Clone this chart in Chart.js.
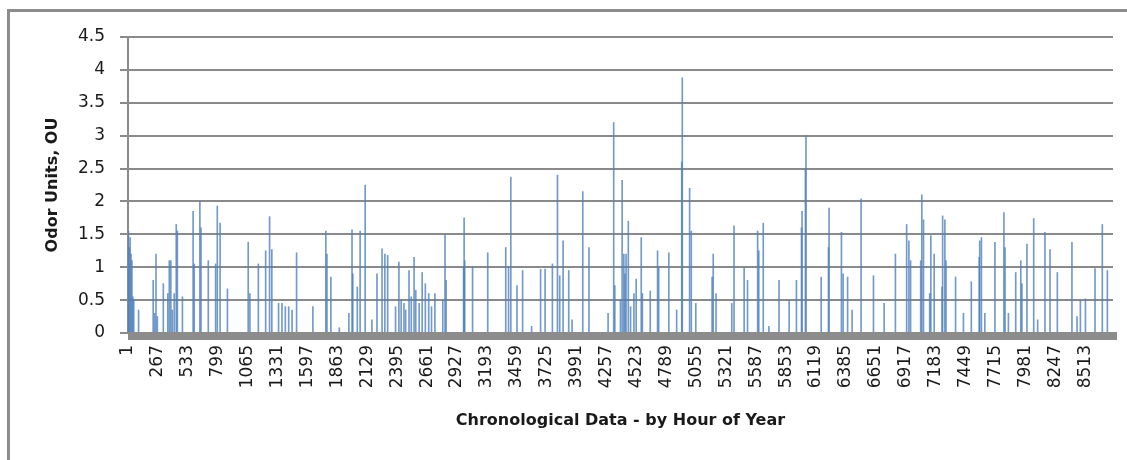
<!DOCTYPE html>
<html>
<head>
<meta charset="utf-8">
<script src="https://cdn.jsdelivr.net/npm/chart.js@4.4.1/dist/chart.umd.min.js"></script>
<style>
  html, body { margin: 0; padding: 0; background: #fff; }
  #frame {
    position: absolute; left: 7px; top: 9px; width: 1140px; height: 470px;
    border-left: 3px solid #8c8c8c; border-top: 3px solid #8c8c8c;
  }
  #odorChart { position: absolute; left: 0; top: 0; }
</style>
</head>
<body>
<div id="frame"></div>
<canvas id="odorChart" width="1127" height="460"></canvas>
<script>
// jam dalam setahun (1..8760)
const HOURS_IN_YEAR = 8760;
const TICK_STEP = 266;

// puncak bau yg kebaca dari grafik (jam ke-, nilai OU)
const spikeHours = [
  5, 12, 20, 28, 36, 44, 52, 95,
  225, 238, 250, 262, 315, 355, 368, 382, 395, 412, 430, 440, 485,
  580, 590, 640, 650, 715, 780, 795, 820, 885,
  1070, 1085, 1160, 1225, 1260, 1280, 1340, 1370, 1400, 1430, 1460, 1500,
  1645, 1760, 1770, 1805, 1880, 1965, 1993, 2000, 2040, 2065, 2110, 2170,
  2215, 2260, 2285, 2310, 2380, 2410, 2430, 2455, 2470, 2500, 2520, 2545,
  2560, 2590, 2617, 2645, 2675, 2700, 2730, 2800, 2820, 2830,
  2985, 2990, 2995, 3065, 3200, 3360, 3385, 3405, 3460, 3510, 3590,
  3670, 3710, 3775, 3820, 3840, 3870, 3920, 3950, 4045, 4100, 4270,
  4320, 4330, 4380, 4395, 4410, 4420, 4430, 4450, 4470, 4500, 4520,
  4565, 4575, 4645, 4710, 4720, 4810, 4880, 4925, 4930, 4995, 5010, 5050,
  5195, 5205, 5230, 5370, 5390, 5480, 5510, 5600, 5610, 5650, 5700,
  5790, 5880, 5945, 5990, 5995, 6025, 6030, 6165, 6230, 6235, 6345,
  6360, 6400, 6440, 6520, 6630, 6725, 6825, 6925, 6945, 6960, 7050,
  7060, 7075, 7130, 7140, 7170, 7240, 7245, 7265, 7275, 7360, 7430,
  7500, 7570, 7575, 7590, 7620, 7710, 7790, 7800, 7830, 7895, 7940,
  7950, 7995, 8055, 8090, 8155, 8200, 8265, 8395, 8440, 8470, 8515,
  8600, 8665, 8710
];
const spikeValues = [
  1.55, 1.3, 1.45, 1.2, 1.1, 0.55, 0.5, 0.35,
  0.8, 0.3, 1.2, 0.25, 0.75, 0.6, 1.1, 1.1, 0.35, 0.6, 1.65, 1.55, 0.55,
  1.85, 1.05, 2.0, 1.6, 1.1, 1.05, 1.93, 1.67, 0.67,
  1.38, 0.6, 1.05, 1.25, 1.77, 1.27, 0.45, 0.45, 0.4, 0.4, 0.35, 1.22,
  0.4, 1.55, 1.2, 0.85, 0.08, 0.3, 1.57, 0.9, 0.7, 1.55, 2.25, 0.2,
  0.9, 1.28, 1.2, 1.18, 0.4, 1.08, 0.5, 0.45, 0.35, 0.95, 0.55, 1.15,
  0.65, 0.45, 0.92, 0.75, 0.6, 0.4, 0.6, 0.5, 1.5, 0.8,
  1.0, 1.75, 1.1, 1.0, 1.22, 1.3, 1.0, 2.37, 0.72, 0.95, 0.1,
  0.97, 0.97, 1.05, 2.4, 0.87, 1.4, 0.95, 0.2, 2.15, 1.3, 0.3,
  3.2, 0.72, 0.5, 2.32, 1.2, 0.9, 1.2, 1.7, 0.4, 0.6, 0.82,
  1.45, 0.6, 0.64, 1.25, 1.0, 1.22, 0.35, 2.6, 3.88, 2.2, 1.55, 0.45,
  0.85, 1.2, 0.6, 0.45, 1.63, 1.0, 0.8, 1.55, 1.25, 1.67, 0.1,
  0.8, 0.5, 0.8, 1.6, 1.85, 2.5, 3.0, 0.85, 1.3, 1.9, 1.53,
  0.9, 0.85, 0.35, 2.04, 0.87, 0.45, 1.2, 1.65, 1.4, 1.1, 1.1,
  2.1, 1.72, 0.6, 1.48, 1.2, 0.7, 1.78, 1.72, 1.1, 0.85, 0.3,
  0.78, 1.15, 1.4, 1.45, 0.3, 1.38, 1.83, 1.3, 0.3, 0.92, 1.1,
  0.75, 1.35, 1.74, 0.2, 1.53, 1.27, 0.92, 1.38, 0.25, 0.5, 0.52,
  0.98, 1.65, 0.95
];

const yTicks = [0, 0.5, 1, 1.5, 2, 2.5, 3, 3.5, 4, 4.5];

// label kategori = jam ke-1 s/d 8760, sisanya 0
const hourLabels = [];
const odorValues = [];
for (let h = 1; h <= HOURS_IN_YEAR; h++) {
    hourLabels.push(h);
    odorValues.push(0);
}
spikeHours.forEach((h, i) => { odorValues[h - 1] = spikeValues[i]; });

// garis sumbu x tebal abu2 kayak di excel
const thickAxis = {
    id: 'thickAxis',
    afterDatasetsDraw(chart) {
        const { ctx, chartArea } = chart;
        ctx.save();
        ctx.fillStyle = '#8c8c8c';
        ctx.fillRect(chartArea.left, chartArea.bottom - 1, chartArea.right - chartArea.left + 4, 8);
        ctx.restore();
    }
};

const ctx = document.getElementById('odorChart').getContext('2d');
new Chart(ctx, {
    type: 'bar',
    data: {
        labels: hourLabels,
        datasets: [{
            label: 'Odor Units',
            data: odorValues,
            backgroundColor: 'rgba(79, 129, 189, 0.8)',
            barThickness: 1,
            borderWidth: 0
        }]
    },
    plugins: [thickAxis],
    options: {
        responsive: false,
        animation: false,
        devicePixelRatio: 1,
        layout: { padding: { top: 37, right: 14, left: 0, bottom: 0 } },
        plugins: {
            legend: { display: false },
            tooltip: { enabled: false }
        },
        scales: {
            x: {
                type: 'category',
                offset: false,
                afterFit: (s) => { s.height = 127; },
                afterBuildTicks: (s) => {
                    s.ticks = s.ticks.filter(t => t.value % TICK_STEP === 0);
                },
                grid: { display: false, drawTicks: false },
                border: { display: false },
                ticks: {
                    autoSkip: false,
                    minRotation: 90,
                    maxRotation: 90,
                    padding: 12,
                    color: '#1a1a1a',
                    font: { family: 'DejaVu Sans', size: 17 }
                },
                title: {
                    display: true,
                    text: 'Chronological Data - by Hour of Year',
                    color: '#1a1a1a',
                    font: { family: 'DejaVu Sans', size: 16, weight: 'bold' },
                    padding: { top: 4, bottom: 30 }
                }
            },
            y: {
                min: yTicks[0],
                max: yTicks[yTicks.length - 1],
                afterFit: (s) => { s.width = 128; },
                afterBuildTicks: (s) => { s.ticks = yTicks.map(v => ({ value: v })); },
                grid: {
                    color: '#8a8a8a',
                    lineWidth: 2,
                    drawTicks: true,
                    tickLength: 8,
                    tickColor: '#8a8a8a'
                },
                border: { display: true, color: '#8a8a8a', width: 2 },
                ticks: {
                    padding: 15,
                    color: '#1a1a1a',
                    font: { family: 'DejaVu Sans', size: 17 },
                    callback: (v) => String(+Number(v).toFixed(1))
                },
                title: {
                    display: true,
                    text: 'Odor Units, OU',
                    color: '#1a1a1a',
                    font: { family: 'DejaVu Sans', size: 16, weight: 'bold' },
                    padding: { top: 43, bottom: 0 }
                }
            }
        }
    }
});
</script>
</body>
</html>
